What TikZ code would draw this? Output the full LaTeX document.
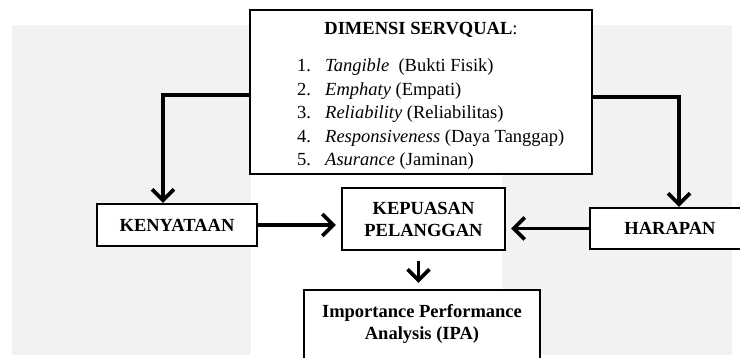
\documentclass[tikz,border=0pt]{standalone}
\usepackage{fontspec}
\setmainfont{Liberation Serif}
\usepackage{tikz}
\usetikzlibrary{arrows.meta}

\definecolor{scangray}{RGB}{242,242,244}

\tikzset{
  box/.style={draw, line width=2.4pt, fill=white, inner sep=0pt, align=center,
    font=\fontsize{18.5}{22}\selectfont\bfseries},
  flow/.style={line width=3.6pt, -{Straight Barb[length=11pt,width=22pt,line width=3.6pt]}},
  listtext/.style={anchor=base west, inner sep=0pt, font=\fontsize{18.5}{22}\selectfont}
}

\begin{document}
\begin{tikzpicture}[x=1pt,y=-1pt]
\useasboundingbox[fill=white] (0,0) rectangle (740,358);
% faint scan background
\fill[scangray] (12,25) rectangle (251,355);
\fill[scangray] (502,25) rectangle (732,355);

% boxes
\node[box, minimum width=342pt, minimum height=164pt] (servqual) at (421,92) {};
\node[box, minimum width=160pt, minimum height=42pt] (kenyataan) at (177,225) {KENYATAAN};
\node[box, minimum width=163pt, minimum height=62pt] (kepuasan) at (423.5,219) {KEPUASAN\\PELANGGAN};
\node[box, minimum width=236pt, minimum height=84pt] (ipa) at (422,332) {};
\node[box, minimum width=160pt, minimum height=41pt] (harapan) at (670,228.5) {HARAPAN};
\node[anchor=base, inner sep=0pt, align=center, font=\fontsize{18.5}{22}\selectfont\bfseries]
  (ipatext) at (422,340) {Importance Performance\\Analysis (IPA)};

% servqual list
\node[anchor=base, inner sep=0pt, font=\fontsize{18.5}{22}\selectfont] (judul) at (421,35)
  {\textbf{DIMENSI SERVQUAL}:};
\foreach \nama/\arti [count=\i] in {Tangible/\ (Bukti Fisik), Emphaty/(Empati),
    Reliability/(Reliabilitas), Responsiveness/(Daya Tanggap), Asurance/(Jaminan)}{
  \node[listtext] (no\i) at (297,{72+23.5*(\i-1)}) {\i.};
  \node[listtext] (dim\i) at (325,{72+23.5*(\i-1)}) {\textit{\nama} \arti};
}

% connectors
\draw[flow] ([yshift=-3pt]servqual.west) -| ([xshift=-14pt]kenyataan.north);
\draw[flow] ([yshift=-5pt]servqual.east) -| ([xshift=9pt]harapan.north);
\draw[flow, shorten >=5pt] (kenyataan.east) -- (kenyataan.east -| kepuasan.west);
\draw[flow, shorten >=5pt] (harapan.west) -- (harapan.west -| kepuasan.east);
\draw[flow, shorten <=10pt, shorten >=6pt] ([xshift=-5pt]kepuasan.south) -- ([xshift=-5pt]kepuasan.south |- ipa.north);
\end{tikzpicture}
\end{document}
